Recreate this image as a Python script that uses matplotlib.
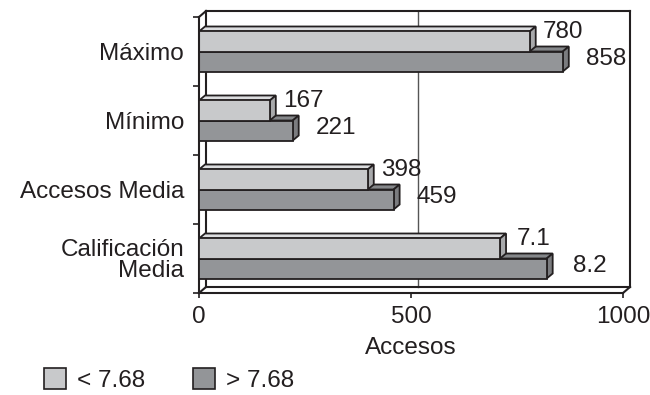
import matplotlib
matplotlib.use('Agg')
import matplotlib.pyplot as plt
from matplotlib.patches import Polygon, Patch

plt.rcParams['font.family'] = ['Liberation Sans', 'DejaVu Sans']

categories = ['Máximo', 'Mínimo', 'Accesos Media', 'Calificación\nMedia']
low_vals = [780, 167, 398, 7.1]
high_vals = [858, 221, 459, 8.2]
# grades are drawn on the access axis, x100
row_scale = [1, 1, 1, 100]
series_names = ['< 7.68', '> 7.68']
xticks = [0, 500, 1000]

TXT = '#231f20'
FS = 17.5
light = dict(front='#c8c9cb', top='#dcdddf', side='#a8a9ab')
dark = dict(front='#939598', top='#85878a', side='#7b7c7f')

W, H = 650, 395
fig = plt.figure(figsize=(W / 100, H / 100), dpi=100)
ax = fig.add_axes([199 / W, 102 / H, 424 / W, 276 / H])
ax.set_xlim(0, 1000)
ax.set_ylim(3.5, -0.5)

# pixel -> data unit conversion for the 3d depth
pos = ax.get_position()
ux = pos.width * W / 1000
uy = pos.height * H / 4
bdx, bdy = 6 / ux, 5 / uy
wdx, wdy = 7 / ux, 6 / uy


def line(x, y, lw=1.5, color=TXT, z=1):
    ax.plot(x, y, color=color, lw=lw, clip_on=False, zorder=z, solid_capstyle='projecting')


# back wall, floor and side wall
x0, x1 = wdx, 1000 + wdx
ytop, ybot = -0.5 - wdy, 3.5 - wdy
line([x0, x1], [ytop, ytop])
line([x1, x1], [ytop, ybot])
line([x0, x0], [ytop, ybot])
line([x0, x1], [ybot, ybot])
line([0, x0], [-0.5, ytop])
line([0, x0], [3.5, ybot])
line([1000, x1], [3.5, ybot])
line([500 + wdx, 500 + wdx], [ytop, ybot], lw=1.0, color='#555555', z=0.5)


def bar(y0, y1, v, c, z):
    kw = dict(edgecolor=TXT, lw=1.3, joinstyle='miter', clip_on=False, zorder=z)
    ax.add_patch(Polygon([(0, y0), (v, y0), (v + bdx, y0 - bdy), (bdx, y0 - bdy)],
                         facecolor=c['top'], **kw))
    ax.add_patch(Polygon([(v, y0), (v + bdx, y0 - bdy), (v + bdx, y1 - bdy), (v, y1)],
                         facecolor=c['side'], **kw))
    ax.add_patch(Polygon([(0, y0), (v, y0), (v, y1), (0, y1)],
                         facecolor=c['front'], **kw))


h = 0.29
for i, (lo, hi, s) in enumerate(zip(low_vals, high_vals, row_scale)):
    bar(i, i + h, hi * s, dark, 2 + i)
    bar(i - h, i, lo * s, light, 2.5 + i)
    ax.annotate(f'{lo:g}', (lo * s, i - h / 2), xytext=(24, 7), textcoords='offset points',
                ha='center', va='center', fontsize=FS, color=TXT, zorder=10)
    ax.annotate(f'{hi:g}', (hi * s, i + h / 2), xytext=(31, 2), textcoords='offset points',
                ha='center', va='center', fontsize=FS, color=TXT, zorder=10)

# axes
for sp in ['top', 'right']:
    ax.spines[sp].set_visible(False)
for sp in ['left', 'bottom']:
    ax.spines[sp].set_linewidth(1.5)
    ax.spines[sp].set_color(TXT)
ax.patch.set_visible(False)

ax.set_xticks(xticks)
ax.tick_params(axis='x', length=3.6, width=1.2, color=TXT, pad=6, labelsize=FS, labelcolor=TXT)
ax.set_yticks([-0.5, 0.5, 1.5, 2.5, 3.5])
ax.set_yticklabels([])
ax.set_yticks(range(len(categories)), minor=True)
ax.set_yticklabels(categories, minor=True)
ax.tick_params(axis='y', which='major', length=4.3, width=1.2, color=TXT)
ax.tick_params(axis='y', which='minor', length=0, pad=10.8, labelsize=FS, labelcolor=TXT)
for t in ax.get_yticklabels(minor=True):
    t.set_linespacing(0.92)
ax.set_xlabel('Accesos', fontsize=FS, color=TXT, labelpad=6)

handles = [Patch(facecolor=light['front'], edgecolor=TXT, lw=1.2),
           Patch(facecolor=dark['front'], edgecolor=TXT, lw=1.2)]
fig.legend(handles, series_names, loc='center left', bbox_to_anchor=(44 / W, 15 / H),
           ncol=2, frameon=False, fontsize=FS, handlelength=0.92, handleheight=0.92,
           handletextpad=0.45, columnspacing=1.95, borderpad=0, borderaxespad=0,
           labelcolor=TXT)

fig.savefig('out.png', dpi=100)
